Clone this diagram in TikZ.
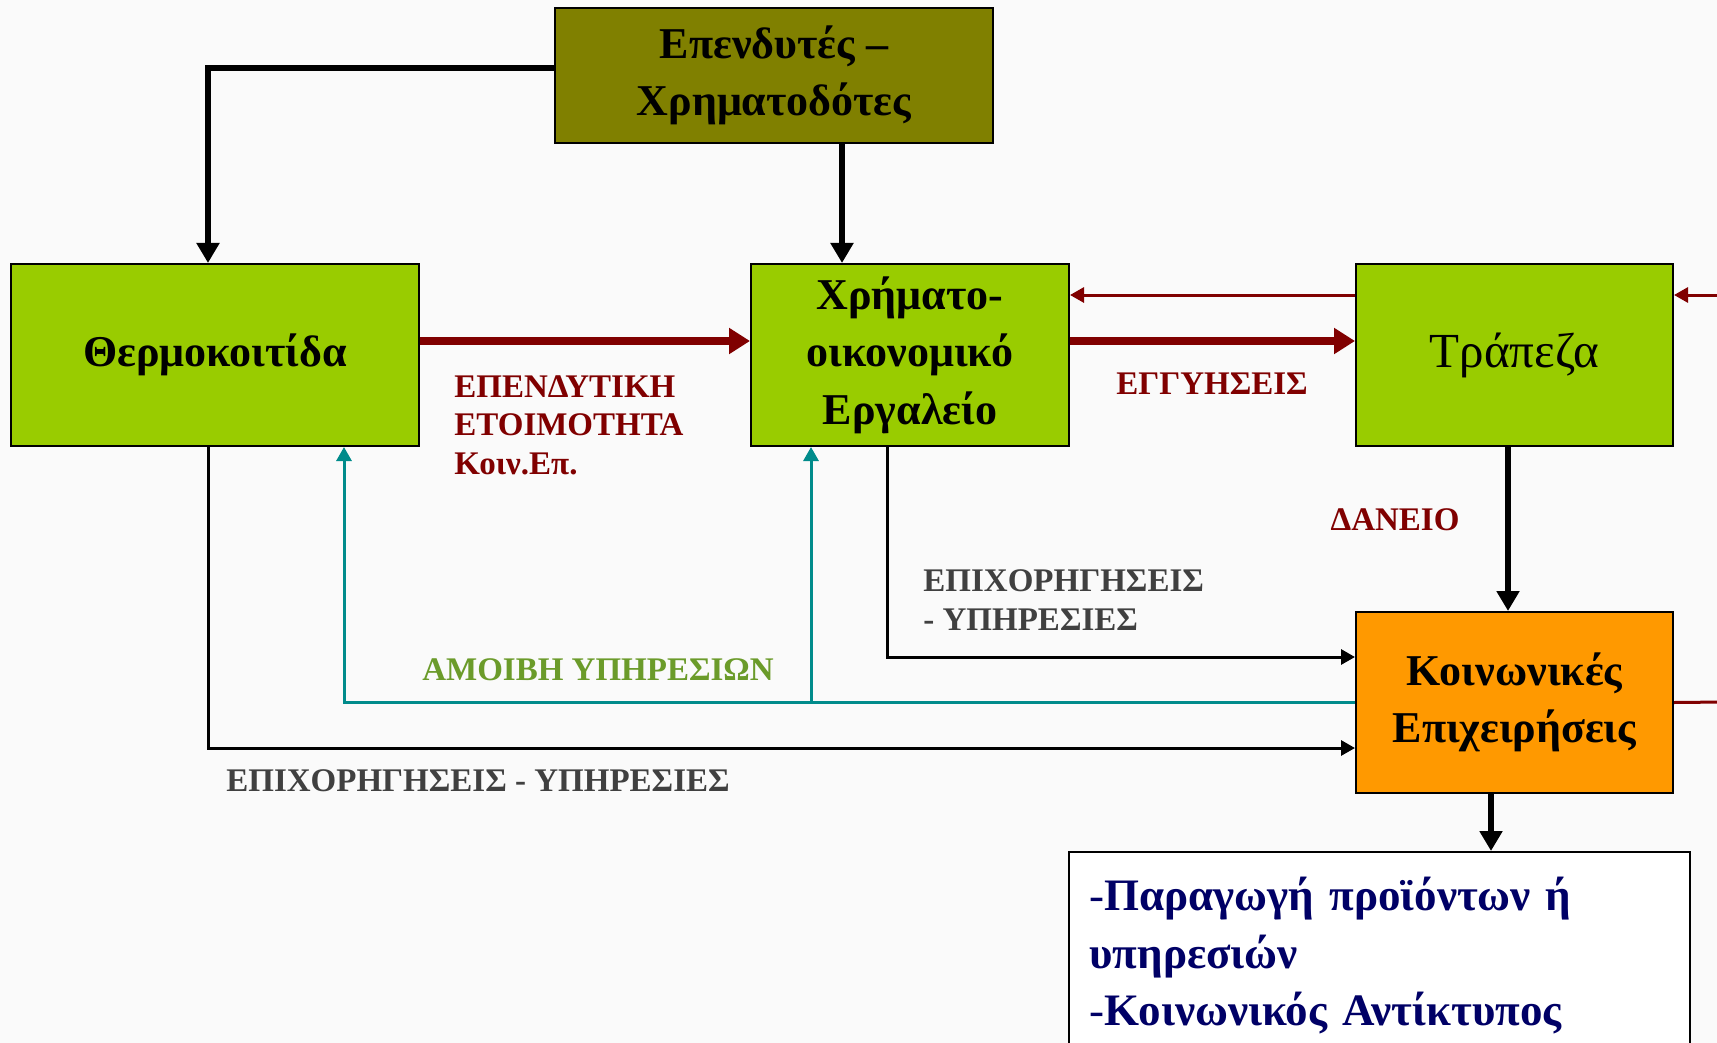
\documentclass[tikz,border=0pt]{standalone}
\usepackage{fontspec}
\setmainfont{Liberation Serif}
\usetikzlibrary{arrows.meta,calc}
\definecolor{boxgreen}{HTML}{99CC00}
\definecolor{boxorange}{HTML}{FF9900}
\definecolor{boxolive}{HTML}{808000}
\definecolor{dred}{HTML}{800000}
\definecolor{tealc}{HTML}{008B8B}
\definecolor{lgreen}{HTML}{6B9B2A}
\definecolor{gtext}{HTML}{404040}
\definecolor{navyc}{HTML}{000066}
\definecolor{bgc}{HTML}{FAFAFA}
\begin{document}
\begin{tikzpicture}[x=0.5pt,y=-0.5pt,
  box/.style={draw=black, line width=1pt, inner sep=0pt, align=center,
    font=\fontsize{22}{28.75}\selectfont\bfseries},
  lbl/.style={inner sep=0pt, font=\fontsize{16.5}{19.2}\selectfont\bfseries},
  thickblk/.style={draw=black, line width=2.75pt, -{Triangle[width=11pt,length=10pt]}},
  thickred/.style={draw=dred, line width=4pt, -{Triangle[width=12.5pt,length=10.5pt]}},
  thinred/.style={draw=dred, line width=1.5pt, -{Triangle[width=7.5pt,length=7pt]}},
  thinblk/.style={draw=black, line width=1.5pt, -{Triangle[width=7.5pt,length=7pt]}},
  tealln/.style={draw=tealc, line width=1.5pt},
  tealarr/.style={tealln, -{Triangle[width=7.5pt,length=7pt]}}
]
\clip (0,0) rectangle (1717,1043);
\fill[bgc] (0,0) rectangle (1717,1043);

% boxes
\node[box, fill=boxolive, minimum width=219pt, minimum height=67.5pt] (top) at (774,75.5) {Επενδυτές –\\Χρηματοδότες};
\node[box, fill=boxgreen, minimum width=204pt, minimum height=91pt] (therm) at (215,355) {Θερμοκοιτίδα};
\node[box, fill=boxgreen, minimum width=159pt, minimum height=91pt] (xrima) at (910,355) {Χρήματο-\\οικονομικό\\Εργαλείο};
\node[box, fill=boxgreen, minimum width=158.5pt, minimum height=91pt, font=\fontsize{24.5}{28.75}\selectfont] (trap) at (1514.5,355) {Τράπεζα};
\node[box, fill=boxorange, minimum width=158.5pt, minimum height=90.5pt] (koin) at (1514.5,702.5) {Κοινωνικές\\Επιχειρήσεις};
\node[draw=black, line width=1pt, fill=white, minimum width=310pt, minimum height=104pt,
  text width=289.5pt, inner xsep=10.5pt, inner ysep=0pt, align=left, text=navyc,
  font=\fontsize{22.5}{28.75}\selectfont] (res) at (1379,956)
  {-\textbf{Παραγωγή προϊόντων ή}\\\textbf{υπηρεσιών}\\-\textbf{Κοινωνικός Αντίκτυπος}};

% coordinates for free ends
\coordinate (rin) at (1725,295);
\coordinate (rout) at (1725,702);

% black thick
\draw[thickblk] ([yshift=3.75pt]top.west) -| ([xshift=-3.5pt]therm.north);
\draw[thickblk] ([xshift=34pt]top.south) -- ([xshift=34pt]top.south |- xrima.north);
\draw[thickblk] ([xshift=-3.25pt]trap.south) -- ([xshift=-3.25pt]trap.south |- koin.north);
\draw[thickblk] ([xshift=-11.75pt]koin.south) -- ([xshift=-11.75pt]koin.south |- res.north);

% red
\draw[thickred] ([yshift=7pt]therm.east) -- ([yshift=7pt]xrima.west);
\draw[thickred] ([yshift=7pt]xrima.east) -- ([yshift=7pt]trap.west);
\draw[thinred] ([yshift=30pt]trap.west) -- ([yshift=30pt]xrima.east);
\draw[thinred] (rin) -- (rin -| trap.east);
\draw[dred, line width=1.5pt] (koin.east) -- (rout);

% thin black
\draw[thinblk] ([xshift=-11.5pt]xrima.south) |- ([yshift=22.75pt]koin.west);
\draw[thinblk] ([xshift=-3.5pt]therm.south) |- ([yshift=-22.75pt]koin.west);

% teal
\coordinate (tl) at ([xshift=64.5pt]therm.south |- koin.west);
\coordinate (tb) at ([xshift=-49.5pt]xrima.south |- koin.west);
\draw[tealarr] (koin.west) -- (tl) -- ([xshift=64.5pt]therm.south);
\draw[tealarr] (tb) -- ([xshift=-49.5pt]xrima.south);

% labels
\node[lbl, text=dred, anchor=west, align=left] (l1) at (454,425) {ΕΠΕΝΔΥΤΙΚΗ\\ΕΤΟΙΜΟΤΗΤΑ\\Κοιν.Επ.};
\node[lbl, text=dred] (l2) at (1212,384) {ΕΓΓΥΗΣΕΙΣ};
\node[lbl, text=dred] (l3) at (1395,520) {ΔΑΝΕΙΟ};
\node[lbl, text=gtext, anchor=west, align=left] (l4) at (923,600) {ΕΠΙΧΟΡΗΓΗΣΕΙΣ\\- ΥΠΗΡΕΣΙΕΣ};
\node[lbl, text=lgreen] (l5) at (598,670) {ΑΜΟΙΒΗ ΥΠΗΡΕΣΙΩΝ};
\node[lbl, text=gtext] (l6) at (478,781) {ΕΠΙΧΟΡΗΓΗΣΕΙΣ - ΥΠΗΡΕΣΙΕΣ};
\end{tikzpicture}
\end{document}
